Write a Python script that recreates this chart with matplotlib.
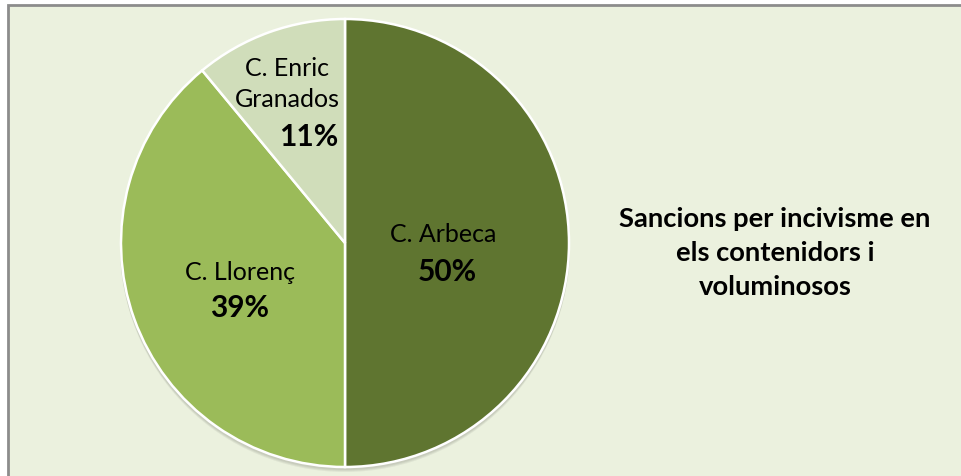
import matplotlib
matplotlib.use("Agg")
import matplotlib.pyplot as plt
from matplotlib.patches import Rectangle, Circle

categories = ["C. Arbeca", "C. Llorenç", "C. Enric\nGranados"]
values = [50, 39, 11]
pct_labels = ["50%", "39%", "11%"]
colors = ["#5F7530", "#9BBB59", "#D0DDBA"]
title = "Sancions per incivisme en\nels contenidors i\nvoluminosos"

W, H = 962, 476
fig = plt.figure(figsize=(W / 100, H / 100), dpi=100)
fig.patch.set_facecolor("white")
ax = fig.add_axes([0, 0, 1, 1])
ax.set_xlim(0, W)
ax.set_ylim(0, H)
ax.set_aspect("equal")
ax.axis("off")

def Y(y):
    return H - y

# chart area background + border
ax.add_patch(Rectangle((8, -10), W + 20 - 8, Y(5) + 10, facecolor="#EBF1DE",
                       edgecolor="#8C8C8C", linewidth=2, zorder=0))

cx, cy, r = 345, 243, 224
# soft shadow
for i, a in enumerate([0.05, 0.05, 0.05]):
    ax.add_patch(Circle((cx, Y(cy) - 2 - i), r + 1, facecolor="black",
                        alpha=a, edgecolor="none", zorder=1))

wedges, _ = ax.pie(values, colors=colors, startangle=90, counterclock=False,
                   center=(cx, Y(cy)), radius=r, frame=True,
                   wedgeprops=dict(edgecolor="white", linewidth=1.8, zorder=2))
ax.set_xlim(0, W)
ax.set_ylim(0, H)
ax.axis("off")

font = "Lato"
name_pos = [(443, 235), (240, 273), (287, 84)]
pct_pos = [(447, 272), (240, 308), (309, 137)]
for name, pct, (nx, ny), (px, py) in zip(categories, pct_labels, name_pos, pct_pos):
    ax.text(nx, Y(ny), name, ha="center", va="center", fontsize=18,
            family=font, color="black", linespacing=1.42, zorder=5)
    ax.text(px, Y(py), pct, ha="center", va="center", fontsize=21.5,
            family=font, fontweight="bold", color="black", zorder=5)

ax.text(775, Y(253), title, ha="center", va="center", fontsize=19.7,
        family=font, fontweight="bold", color="black", linespacing=1.52, zorder=5)

fig.savefig("out.png", dpi=100, facecolor=fig.get_facecolor())
